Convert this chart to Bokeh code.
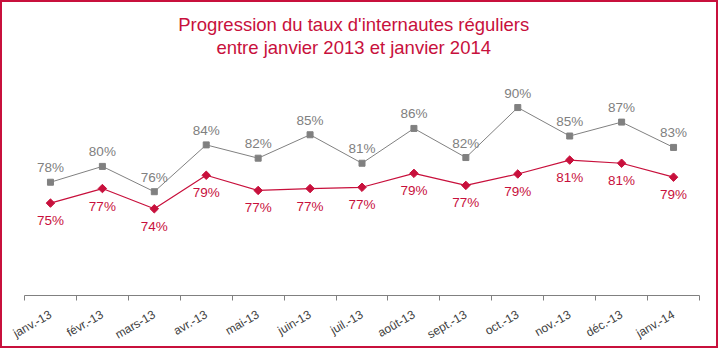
import math
from bokeh.plotting import figure
from bokeh.models import (Range1d, LinearAxis, FixedTicker, Label, LabelSet,
                          ColumnDataSource)
from bokeh.core.properties import value
from bokeh.embed import file_html
from bokeh.resources import INLINE

# ---- data ----
months = ["janv.-13", "févr.-13", "mars-13", "avr.-13", "mai-13", "juin-13",
          "juil.-13", "août-13", "sept.-13", "oct.-13", "nov.-13", "déc.-13",
          "janv.-14"]
serie_haute = [77.9, 80.4, 76.4, 83.8, 81.7, 85.4, 80.9, 86.4, 81.8, 89.7,
               85.2, 87.4, 83.4]
serie_basse = [74.6, 76.9, 73.7, 79.0, 76.6, 76.9, 77.1, 79.3, 77.4, 79.2,
               81.4, 80.9, 78.7]
title_lines = ["Progression du taux d'internautes réguliers",
               "entre janvier 2013 et janvier 2014"]

RED = "#C8103C"
GRAY = "#808080"
FONT = "Liberation Sans"

idx = list(range(len(months)))
src = ColumnDataSource(dict(
    x=idx,
    haute=serie_haute,
    basse=serie_basse,
    lab_haute=[f"{round(v)}%" for v in serie_haute],
    lab_basse=[f"{round(v)}%" for v in serie_basse],
))

p = figure(width=718, height=348, output_backend="svg", toolbar_location=None,
           x_range=Range1d(-0.5, len(months) - 0.5), y_range=Range1d(60, 106.3),
           x_axis_location=None, y_axis_location=None,
           min_border_left=22, min_border_right=21,
           min_border_top=0, min_border_bottom=54)
p.styles = {"border": f"2px solid {RED}"}
p.grid.visible = False
p.outline_line_color = None
p.background_fill_color = "white"
p.border_fill_color = "white"

# axis with tick marks between categories
xaxis = LinearAxis(
    ticker=FixedTicker(ticks=idx, minor_ticks=[i - 0.5 for i in range(len(months) + 1)]),
    major_label_overrides={i: m for i, m in enumerate(months)},
    major_label_orientation=math.radians(30),
    major_label_text_font=FONT,
    major_label_text_font_size="12px",
    major_label_text_color="#404040",
    major_label_standoff=12,
    major_tick_line_color=None,
    minor_tick_line_color=GRAY,
    minor_tick_in=0, minor_tick_out=5,
    axis_line_color=GRAY,
)
p.add_layout(xaxis, "below")

# series
p.line("x", "haute", source=src, line_color=GRAY, line_width=1)
p.scatter("x", "haute", source=src, marker="square", size=6,
          fill_color=GRAY, line_color=GRAY)
p.line("x", "basse", source=src, line_color=RED, line_width=1.2)
p.scatter("x", "basse", source=src, marker="square", angle=math.pi / 4, size=6,
          fill_color=RED, line_color=RED)

p.add_layout(LabelSet(x="x", y="haute", text="lab_haute", source=src,
                      text_align="center", text_baseline="alphabetic",
                      y_offset=10, text_font=value(FONT), text_font_size="13.5px",
                      text_color=GRAY))
p.add_layout(LabelSet(x="x", y="basse", text="lab_basse", source=src,
                      text_align="center", text_baseline="alphabetic",
                      y_offset=-22, text_font=value(FONT), text_font_size="13.5px",
                      text_color=RED))

# title
p.add_layout(Label(x=5.84, y=102.8, text=title_lines[0], text_align="center",
                   text_baseline="alphabetic", text_font=FONT,
                   text_font_size="18.5px", text_color=RED))
p.add_layout(Label(x=5.84, y=99.2, text=title_lines[1], text_align="center",
                   text_baseline="alphabetic", text_font=FONT,
                   text_font_size="18.5px", text_color=RED))

open("out.html", "w").write(file_html(p, INLINE))
